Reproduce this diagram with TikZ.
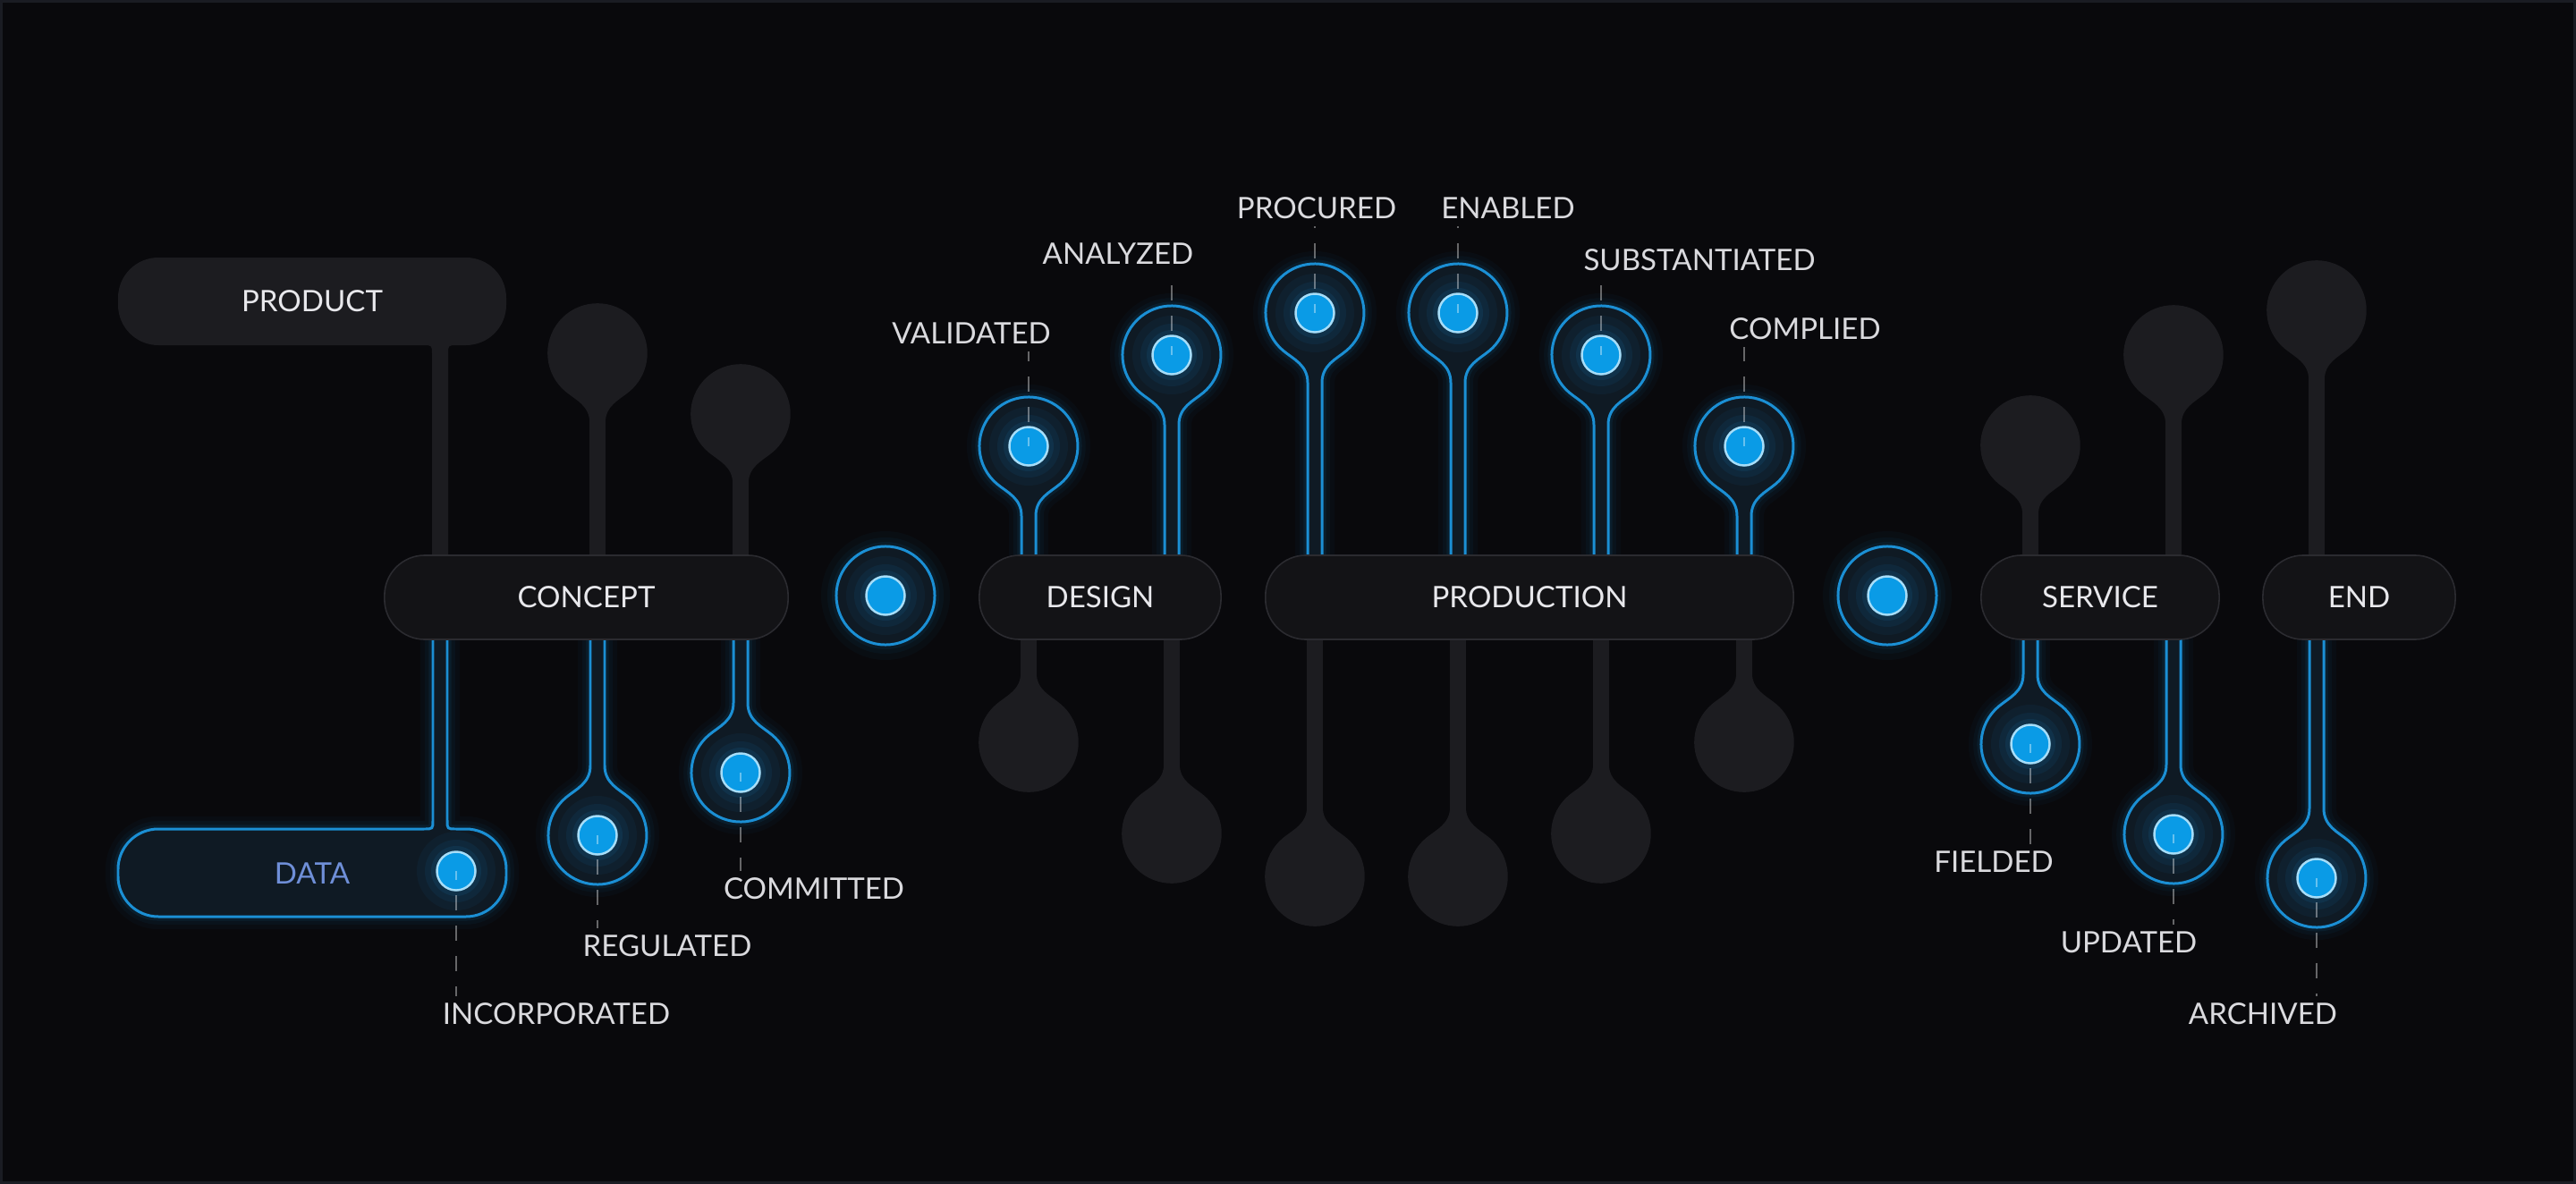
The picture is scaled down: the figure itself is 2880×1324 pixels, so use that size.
\documentclass[tikz,border=0pt]{standalone}
\usepackage{fontspec}
\setmainfont{Lato}
\definecolor{bgc}{HTML}{09090C}
\definecolor{framec}{HTML}{1A1C23}
\definecolor{greyS}{HTML}{1C1C20}
\definecolor{barFill}{HTML}{131316}
\definecolor{barEdge}{HTML}{2B2B30}
\definecolor{lineBlue}{HTML}{1B8FD4}
\definecolor{bFill}{HTML}{0F1A24}
\definecolor{dotBlue}{HTML}{0A9BE6}
\definecolor{dotEdge}{HTML}{A6DDF8}
\definecolor{txt}{HTML}{E8E8EC}
\definecolor{lblTxt}{HTML}{DADADE}
\definecolor{dataTxt}{HTML}{6F8FD8}
% spoon with head above the bar (neck below head)
\newcommand\spT[3]{\path[#3] (#1-8,-668) -- (#1-8,-#2-78) .. controls (#1-8,-#2-58) and (#1-23.9,-#2-51.7) .. (#1-35.4,-#2-42.1) arc[start angle=230,end angle=-50,radius=55] .. controls (#1+23.9,-#2-51.7) and (#1+8,-#2-58) .. (#1+8,-#2-78) -- (#1+8,-668);}
% spoon with head below the bar (neck above head)
\newcommand\spB[3]{\path[#3] (#1-8,-668) -- (#1-8,-#2+78) .. controls (#1-8,-#2+58) and (#1-23.9,-#2+51.7) .. (#1-35.4,-#2+42.1) arc[start angle=130,end angle=410,radius=55] .. controls (#1+23.9,-#2+51.7) and (#1+8,-#2+58) .. (#1+8,-#2+78) -- (#1+8,-668);}
\newcommand\blueT[2]{\spT{#1}{#2}{glowA}\spT{#1}{#2}{glowB}\spT{#1}{#2}{glowC}\spT{#1}{#2}{bspoon}}
\newcommand\blueB[2]{\spB{#1}{#2}{glowA}\spB{#1}{#2}{glowB}\spB{#1}{#2}{glowC}\spB{#1}{#2}{bspoon}}
\newcommand\dotglow[2]{\fill[lineBlue,opacity=0.06] (#1,-#2) circle[radius=44];\fill[lineBlue,opacity=0.08] (#1,-#2) circle[radius=35];\fill[lineBlue,opacity=0.1] (#1,-#2) circle[radius=28];}
\newcommand\datapath{(484,-668) -- (484,-917) .. controls (484,-927) .. (474,-927) -- (177,-927) arc[start angle=90,end angle=180,radius=45] -- (132,-980) arc[start angle=180,end angle=270,radius=45] -- (521,-1025) arc[start angle=270,end angle=360,radius=45] -- (566,-972) arc[start angle=0,end angle=90,radius=45] -- (510,-927) .. controls (500,-927) .. (500,-917) -- (500,-668)}
\begin{document}
\begin{tikzpicture}[x=0.01cm,y=0.01cm,
  txtfont/.style={font=\fontsize{9.4}{11}\selectfont},
  barbox/.style={draw=barEdge, line width=0.45pt, fill=barFill, rounded corners=0.45cm, minimum height=0.94cm, inner sep=0pt, text=txt, txtfont},
  lbl/.style={text=lblTxt, inner sep=0.07cm, txtfont},
  bdot/.style={circle, inner sep=0pt, minimum size=0.43cm, fill=dotBlue, draw=dotEdge, line width=0.7pt},
  ringc/.style={circle, inner sep=0pt, minimum size=1.1cm, fill=bFill, draw=lineBlue, line width=0.85pt},
  leader/.style={draw=white, draw opacity=0.38, line width=0.45pt, dash pattern=on 0.17cm off 0.17cm, dash phase=0.07cm},
  gspoon/.style={fill=greyS, draw=greyS, line width=0.45pt},
  bspoon/.style={fill=bFill, draw=lineBlue, line width=0.85pt},
  glowA/.style={draw=lineBlue, line width=8pt, draw opacity=0.035},
  glowB/.style={draw=lineBlue, line width=5pt, draw opacity=0.05},
  glowC/.style={draw=lineBlue, line width=2.6pt, draw opacity=0.09}]
\useasboundingbox (0,0) rectangle (2880,-1324);
\fill[bgc] (0,0) rectangle (2880,-1324);
\draw[framec, line width=0.9pt] (1.6,-1.6) rectangle (2878.4,-1322.4);

% PRODUCT box with stem
\fill[greyS] (483,-668) -- (483,-396) .. controls (483,-386) .. (473,-386) -- (177,-386) arc[start angle=270,end angle=180,radius=45] -- (132,-333) arc[start angle=180,end angle=90,radius=45] -- (521,-288) arc[start angle=90,end angle=0,radius=45] -- (566,-341) arc[start angle=0,end angle=-90,radius=45] -- (511,-386) .. controls (501,-386) .. (501,-396) -- (501,-668) -- cycle;
\node[txtfont, text=txt] (product) at (349,-337) {PRODUCT};

% grey spoons
\foreach \x/\y in {668/395, 828/463, 2270/498, 2430/397, 2590/347} {\spT{\x}{\y}{gspoon}}
\foreach \x/\y in {1150/830, 1310/932, 1470/980, 1630/980, 1790/932, 1950/830} {\spB{\x}{\y}{gspoon}}

% blue spoons
\foreach \x/\y in {1150/499, 1310/397, 1470/350, 1630/350, 1790/397, 1950/499} {\blueT{\x}{\y}}
\foreach \x/\y in {668/934, 828/864, 2270/832, 2430/933, 2590/982} {\blueB{\x}{\y}}

% DATA box
\path[glowA] \datapath;
\path[glowB] \datapath;
\path[glowC] \datapath;
\path[bspoon] \datapath;
\node[txtfont, text=dataTxt] (data) at (349,-977) {DATA};

% stage bars
\node[barbox, minimum width=4.51cm] (concept) at (655.5,-668) {CONCEPT};
\node[barbox, minimum width=2.70cm] (design) at (1230,-668) {DESIGN};
\node[barbox, minimum width=5.90cm] (production) at (1710,-668) {PRODUCTION};
\node[barbox, minimum width=2.66cm] (service) at (2348,-668) {SERVICE};
\node[barbox, minimum width=2.15cm] (end) at (2637.5,-668) {END};

% ring connectors
\foreach \x in {990, 2110} {
  \fill[lineBlue, opacity=0.04] (\x,-666) circle[radius=72];
  \fill[lineBlue, opacity=0.05] (\x,-666) circle[radius=65];
  \fill[lineBlue, opacity=0.07] (\x,-666) circle[radius=60];
}
\node[ringc] (ringA) at (990,-666) {};
\node[ringc] (ringB) at (2110,-666) {};

% dot glows
\foreach \x/\y in {990/666, 2110/666, 1150/499, 1310/397, 1470/350, 1630/350, 1790/397, 1950/499, 668/934, 828/864, 2270/832, 2430/933, 2590/982, 510/974} {\dotglow{\x}{\y}}

% dots
\node[bdot] (ringAdot) at (ringA) {};
\node[bdot] (ringBdot) at (ringB) {};
\node[bdot] (dVal) at (1150,-499) {};
\node[bdot] (dAna) at (1310,-397) {};
\node[bdot] (dPro) at (1470,-350) {};
\node[bdot] (dEna) at (1630,-350) {};
\node[bdot] (dSub) at (1790,-397) {};
\node[bdot] (dCom) at (1950,-499) {};
\node[bdot] (dReg) at (668,-934) {};
\node[bdot] (dCmt) at (828,-864) {};
\node[bdot] (dFld) at (2270,-832) {};
\node[bdot] (dUpd) at (2430,-933) {};
\node[bdot] (dArc) at (2590,-982) {};
\node[bdot] (dInc) at (510,-974) {};

% labels
\node[lbl] (lVal) at (1086,-373) {VALIDATED};
\node[lbl] (lAna) at (1250,-284) {ANALYZED};
\node[lbl] (lPro) at (1472,-233) {PROCURED};
\node[lbl] (lEna) at (1686,-233) {ENABLED};
\node[lbl] (lSub) at (1900,-291) {SUBSTANTIATED};
\node[lbl] (lCom) at (2018,-368) {COMPLIED};
\node[lbl] (lInc) at (622,-1134) {INCORPORATED};
\node[lbl] (lReg) at (746,-1058) {REGULATED};
\node[lbl] (lCmt) at (910,-994) {COMMITTED};
\node[lbl] (lFld) at (2229,-964) {FIELDED};
\node[lbl] (lUpd) at (2380,-1054) {UPDATED};
\node[lbl] (lArc) at (2530,-1134) {ARCHIVED};

% leaders
\foreach \d/\l in {dVal/lVal, dAna/lAna, dPro/lPro, dEna/lEna, dSub/lSub, dCom/lCom} {
  \draw[leader] (\d.center) -- (\d.center |- \l.south);
}
\foreach \d/\l in {dInc/lInc, dReg/lReg, dCmt/lCmt, dFld/lFld, dUpd/lUpd, dArc/lArc} {
  \draw[leader] (\d.center) -- (\d.center |- \l.north);
}
\end{tikzpicture}
\end{document}
